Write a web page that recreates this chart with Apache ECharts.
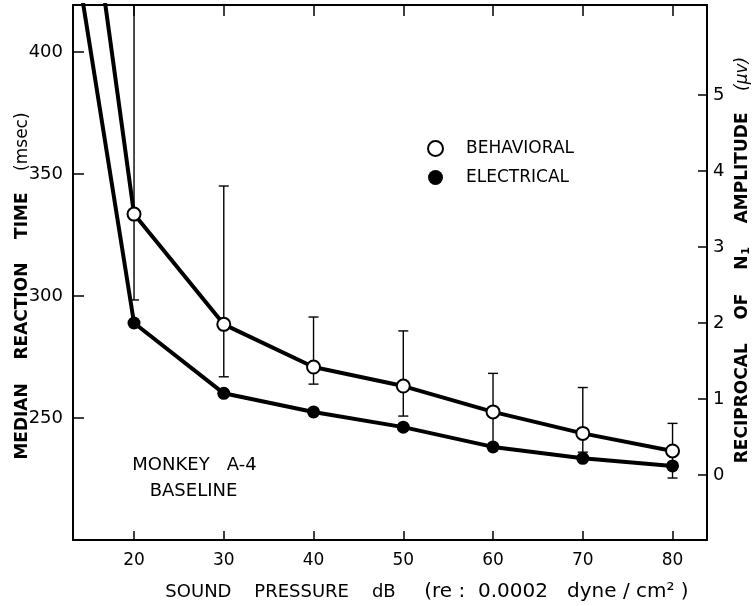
<!DOCTYPE html>
<html>
<head>
<meta charset="utf-8">
<script src="https://cdn.jsdelivr.net/npm/echarts@6/dist/echarts.min.js"></script>
<style>
  html, body { margin: 0; padding: 0; background: #fff; }
  #chart { width: 755px; height: 606px; }
</style>
</head>
<body>
<div id="chart"></div>
<script>
// Sound pressure levels (dB re 0.0002 dyne/cm^2); the 10 dB point lies off the left edge
const levels = [10, 20, 30, 40, 50, 60, 70, 80];
// Median reaction time (msec), left axis
const behavioralMsec = [602, 333.6, 288.4, 270.9, 263.1, 252.5, 243.7, 236.5];
// Reciprocal of N1 amplitude (1/uV), right axis
const electricalRecip = [9.41, 2.0, 1.075, 0.83, 0.63, 0.37, 0.22, 0.12];
// Spread of the behavioral reaction times (msec)
const errLevels = [20, 30, 40, 50, 60, 70, 80];
const errLow = [298.4, 266.9, 263.9, 250.8, 239, 236, 225.4];
const errHigh = [450, 345.1, 291.4, 285.7, 268.3, 262.5, 247.8];
// Tick labels
const xTicks = [20, 30, 40, 50, 60, 70, 80];
const msecTicks = [250, 300, 350, 400];
const recipTicks = [0, 1, 2, 3, 4, 5];

const X_MIN = 13.2, X_MAX = 83.84;
const FONT = "'DejaVu Sans', sans-serif";
const INK = '#000';

const chart = echarts.init(document.getElementById('chart'), null, { renderer: 'canvas' });

function pointData(ys) {
  return levels.map((x, i) => ({
    value: [x, ys[i]],
    symbol: x < X_MIN ? 'none' : 'circle'
  }));
}

const errData = errLevels.map((x, i) => [x, errLow[i], errHigh[i]]);

const option = {
  animation: false,
  backgroundColor: '#fff',
  grid: { left: 73, right: 48, top: 5, bottom: 66, containLabel: false, outerBoundsMode: 'none' },
  legend: {
    orient: 'vertical',
    left: 422,
    top: 135,
    itemWidth: 15,
    itemHeight: 15,
    itemGap: 12,
    selectedMode: false,
    textStyle: { fontFamily: FONT, fontSize: 17, color: INK, padding: [0, 0, 0, 18] },
    data: [
      { name: 'BEHAVIORAL', icon: 'circle', itemStyle: { color: '#fff', borderColor: INK, borderWidth: 2 } },
      { name: 'ELECTRICAL', icon: 'circle', itemStyle: { color: INK, borderColor: INK, borderWidth: 0 } }
    ]
  },
  graphic: [
    {
      type: 'text', x: 194.5, y: 465,
      style: { text: 'MONKEY   A-4', font: '18px ' + FONT, fill: INK, textAlign: 'center', textVerticalAlign: 'middle' }
    },
    {
      type: 'text', x: 193.5, y: 491,
      style: { text: 'BASELINE', font: '18px ' + FONT, fill: INK, textAlign: 'center', textVerticalAlign: 'middle' }
    }
  ],
  xAxis: [
    {
      type: 'value', position: 'bottom', min: X_MIN, max: X_MAX,
      axisLine: { onZero: false, lineStyle: { color: INK, width: 2 } },
      axisTick: { inside: true, length: 9, customValues: xTicks, lineStyle: { color: INK, width: 1.5 } },
      axisLabel: { customValues: xTicks, color: INK, fontFamily: FONT, fontSize: 17, margin: 12 },
      splitLine: { show: false },
      name: '{a|SOUND    PRESSURE    dB     }{p|(re :  0.0002   dyne / cm² )}',
      nameLocation: 'middle', nameGap: 42, nameMoveOverlap: false,
      nameTextStyle: {
        color: INK, padding: [0, 0, 0, 74],
        rich: {
          a: { fontFamily: FONT, fontSize: 18, color: INK },
          p: { fontFamily: FONT, fontSize: 20, color: INK }
        }
      }
    },
    {
      type: 'value', position: 'top', min: X_MIN, max: X_MAX,
      axisLine: { onZero: false, lineStyle: { color: INK, width: 2 } },
      axisTick: { inside: true, length: 11, customValues: xTicks, lineStyle: { color: INK, width: 1.5 } },
      axisLabel: { show: false },
      splitLine: { show: false }
    }
  ],
  yAxis: [
    {
      type: 'value', position: 'left', min: 200, max: 419.3,
      axisLine: { show: true, onZero: false, lineStyle: { color: INK, width: 2 } },
      axisTick: { show: true, inside: true, length: 11, customValues: msecTicks, lineStyle: { color: INK, width: 1.5 } },
      axisLabel: { customValues: msecTicks, color: INK, fontFamily: FONT, fontSize: 18, margin: 10 },
      splitLine: { show: false },
      name: '{b|MEDIAN    REACTION    TIME}{n|    (msec)}',
      nameLocation: 'middle', nameGap: 42, nameMoveOverlap: false,
      nameTextStyle: {
        color: INK, padding: [0, 27, 0, 0],
        rich: {
          b: { fontFamily: FONT, fontSize: 17, fontWeight: 'bold', color: INK },
          n: { fontFamily: FONT, fontSize: 17, color: INK }
        }
      }
    },
    {
      type: 'value', position: 'right', min: -0.855, max: 6.184,
      axisLine: { show: true, onZero: false, lineStyle: { color: INK, width: 2 } },
      axisTick: { show: true, inside: true, length: 9, customValues: recipTicks, lineStyle: { color: INK, width: 1.5 } },
      axisLabel: { customValues: recipTicks, color: INK, fontFamily: FONT, fontSize: 18, margin: 6 },
      splitLine: { show: false },
      name: '{b|RECIPROCAL    OF    N}{s|1}{b|    AMPLITUDE}{n|    (μv)}',
      nameLocation: 'middle', nameGap: 26, nameMoveOverlap: false,
      nameTextStyle: {
        color: INK, padding: [0, 0, 0, 25],
        rich: {
          b: { fontFamily: FONT, fontSize: 17, fontWeight: 'bold', color: INK },
          s: { fontFamily: FONT, fontSize: 11, fontWeight: 'bold', color: INK, padding: [8, 0, 0, 1] },
          n: { fontFamily: FONT, fontSize: 17, fontStyle: 'italic', color: INK }
        }
      }
    }
  ],
  series: [
    {
      type: 'custom',
      name: 'spread',
      xAxisIndex: 0, yAxisIndex: 0,
      z: 1,
      silent: true,
      data: errData,
      renderItem(params, api) {
        const x = api.value(0);
        const pLo = api.coord([x, api.value(1)]);
        const pHi = api.coord([x, api.value(2)]);
        const cs = params.coordSys;
        const top = Math.max(pHi[1], cs.y);
        const bot = Math.min(pLo[1], cs.y + cs.height);
        const half = 5;
        const st = { stroke: INK, lineWidth: 1.4 };
        const kids = [{ type: 'line', shape: { x1: pLo[0], y1: bot, x2: pLo[0], y2: top }, style: st }];
        if (pHi[1] >= cs.y) kids.push({ type: 'line', shape: { x1: pHi[0] - half, y1: pHi[1], x2: pHi[0] + half, y2: pHi[1] }, style: st });
        if (pLo[1] <= cs.y + cs.height) kids.push({ type: 'line', shape: { x1: pLo[0] - half, y1: pLo[1], x2: pLo[0] + half, y2: pLo[1] }, style: st });
        return { type: 'group', children: kids };
      }
    },
    {
      type: 'line',
      name: 'BEHAVIORAL',
      xAxisIndex: 0, yAxisIndex: 0,
      z: 3,
      clip: true,
      data: pointData(behavioralMsec),
      symbolSize: 13,
      lineStyle: { color: INK, width: 4 },
      itemStyle: { color: '#fff', borderColor: INK, borderWidth: 2 },
      emphasis: { disabled: true }
    },
    {
      type: 'line',
      name: 'ELECTRICAL',
      xAxisIndex: 0, yAxisIndex: 1,
      z: 2,
      clip: true,
      data: pointData(electricalRecip),
      symbolSize: 13,
      lineStyle: { color: INK, width: 4 },
      itemStyle: { color: INK, borderColor: INK, borderWidth: 0 },
      emphasis: { disabled: true }
    }
  ]
};

chart.setOption(option);
</script>
</body>
</html>
